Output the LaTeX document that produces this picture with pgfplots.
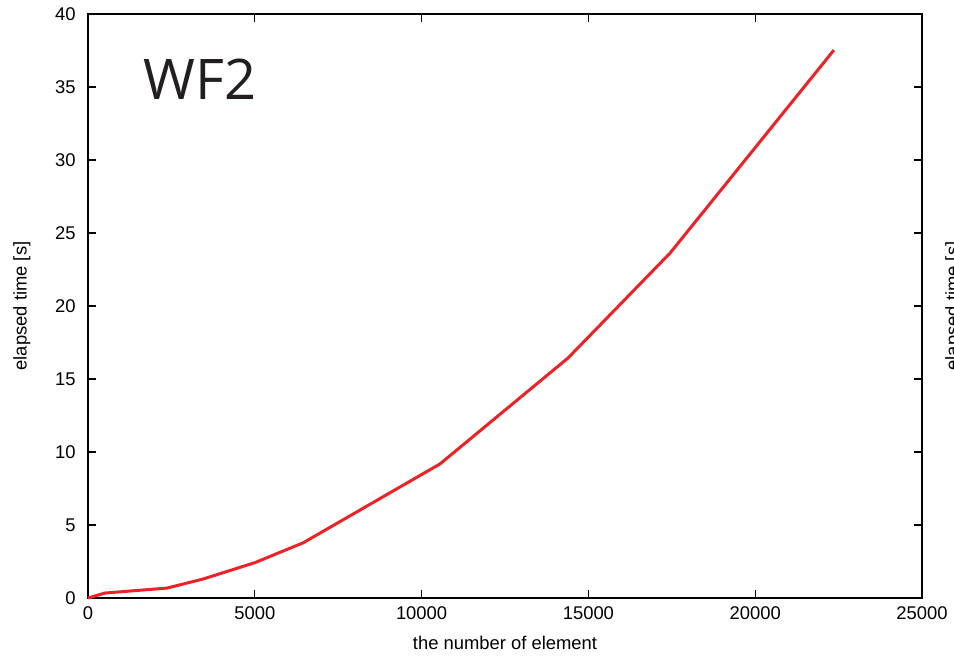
\documentclass[border=0pt]{standalone}
\usepackage{pgfplots}
\pgfplotsset{compat=1.18}
\usepackage{fontspec}
\setmainfont{Liberation Sans}
\newfontfamily\titlefont{Open Sans}
\definecolor{curvered}{RGB}{236,34,39}
\definecolor{titlegray}{RGB}{35,31,32}

\begin{document}
\begin{tikzpicture}
% page frame (the neighbouring panel's label is cut at the right edge)
\useasboundingbox (-44pt,-28.5pt) rectangle (433pt,299pt);
\clip (-44pt,-28.5pt) rectangle (433pt,299pt);
\begin{axis}[
  scale only axis,
  width=417pt, height=292pt,
  xmin=0, xmax=25000, ymin=0, ymax=40,
  xtick={0,5000,...,25000},
  ytick={0,5,...,40},
  scaled x ticks=false,
  /pgf/number format/fixed,
  /pgf/number format/1000 sep={},
  /pgf/number format/assume math mode=true,
  tick align=inside,
  major tick length=4pt,
  tick style={black, line width=0.6pt},
  axis line style={black, line width=0.7pt},
  font=\fontsize{9.2pt}{11pt}\selectfont,
  xlabel={the number of element},
  ylabel={elapsed time [s]},
  xlabel style={at={(axis description cs:0.5,0)}, anchor=north, inner sep=0pt, yshift=-19pt},
  ylabel style={at={([xshift=-37.5pt]axis description cs:0,0.5)}, anchor=north, inner sep=0pt},
  xticklabel style={inner sep=0pt, yshift=-4pt},
  yticklabel style={inner sep=0pt, xshift=-6pt},
  clip=false,
]
\addplot[curvered, line width=1.5pt] coordinates {
  (0,0)
  (510,0.34)
  (2370,0.68)
  (3450,1.3)
  (5000,2.42)
  (6450,3.78)
  (10550,9.18)
  (14390,16.44)
  (17450,23.63)
  (22360,37.53)
};
\node[anchor=base west, inner sep=0pt, text=titlegray, font=\titlefont\fontsize{28pt}{28pt}\selectfont]
  at (rel axis cs:0.066,0.853) {WF2};
\node[anchor=north, rotate=90, inner sep=0pt]
  at ([xshift=428.5pt]axis description cs:0,0.5) {elapsed time [s]};
\end{axis}
\end{tikzpicture}
\end{document}
